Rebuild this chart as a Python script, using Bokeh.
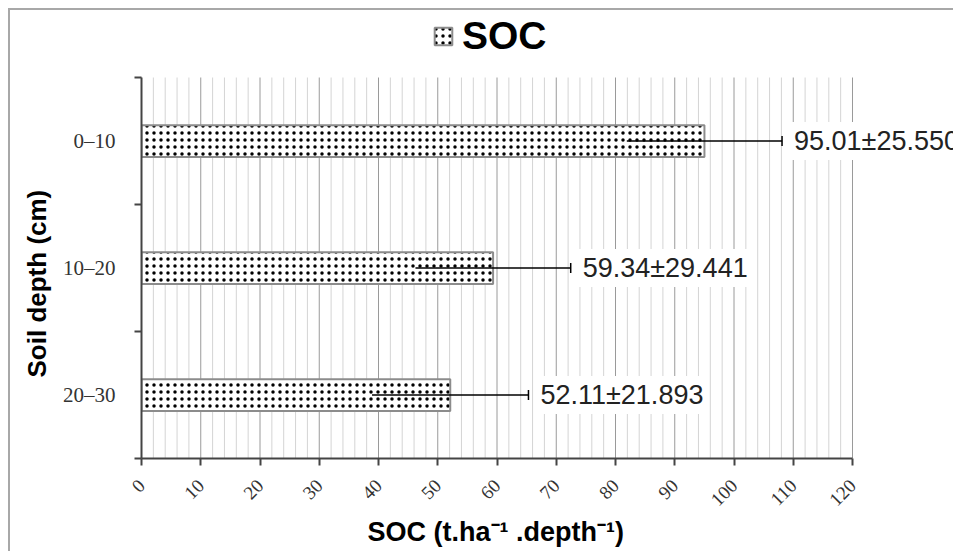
import math
from bokeh.plotting import figure
from bokeh.models import (ColumnDataSource, Range1d, FixedTicker, Title,
                          Whisker, TeeHead, Label, Legend, LegendItem)
from bokeh.embed import file_html
from bokeh.resources import INLINE

# ---- data ----
categories = ["0–10", "10–20", "20–30"]
soc_mean = [95.01, 59.34, 52.11]
soc_sd = [25.550, 29.441, 21.893]
err_drawn = [13.1, 13.1, 13.2]   # whisker half-length as drawn
x_ticks = list(range(0, 121, 10))
x_minor = [v for v in range(0, 121, 2) if v % 10]

ncat = len(categories)
ypos = [i + 0.5 for i in range(ncat)]
src = ColumnDataSource(dict(
    y=ypos, v=soc_mean,
    lo=[m - e for m, e in zip(soc_mean, err_drawn)],
    hi=[m + e for m, e in zip(soc_mean, err_drawn)],
))

SANS = "Liberation Sans"
SERIF = "Liberation Serif"

W, H = 945, 543
LEFT, BOTTOM = 131, 95
PX_PER_X = 711 / 120.0
PX_PER_Y = 381 / 3.0
x_end = 120 + (W - LEFT - 711) / PX_PER_X
y_top = -(H - BOTTOM - 381) / PX_PER_Y

p = figure(width=W, height=H, output_backend="svg", toolbar_location=None,
           x_range=Range1d(0, x_end), y_range=Range1d(ncat, y_top),
           min_border_left=LEFT, min_border_right=0, min_border_top=0, min_border_bottom=BOTTOM,
           outline_line_color=None, background_fill_color="white", border_fill_color="white")
p.styles = {"margin-left": "8px", "margin-top": "8px",
            "border-left": "2px solid #a8a8a8", "border-top": "2px solid #a8a8a8"}
p.xgrid.visible = False
p.ygrid.visible = False

# grid lines (bounded to data area)
p.segment(x0=x_minor, y0=0, x1=x_minor, y1=ncat, line_color="#d4d4d4", line_width=1)
p.segment(x0=x_ticks, y0=0, x1=x_ticks, y1=ncat, line_color="#9a9a9a", line_width=1)

# bars
r = p.hbar(y="y", right="v", left=0, height=0.25, source=src,
           fill_color="white", line_color="#8c8c8c", line_width=2,
           hatch_pattern="dot", hatch_color="black", hatch_scale=7, hatch_weight=2.5)

# error bars
wh = Whisker(source=src, base="y", lower="lo", upper="hi", dimension="width",
             line_color="black", line_width=1.5, level="overlay",
             upper_head=TeeHead(size=10, line_color="black", line_width=1.5),
             lower_head=None)
p.add_layout(wh)

# value labels
for yy, m, s, h in zip(ypos, soc_mean, soc_sd, src.data["hi"]):
    p.add_layout(Label(x=h, y=yy, text=f"{m:.2f}±{s:.3f}", x_offset=8,
                       text_align="left", text_baseline="middle",
                       text_font=SANS, text_font_size="27px", text_color="#222222",
                       background_fill_color="white", padding=4))

# x axis
p.xaxis.bounds = (0, 120)
p.xaxis.ticker = FixedTicker(ticks=x_ticks, minor_ticks=[])
p.xaxis.major_label_orientation = math.pi / 4
p.xaxis.major_label_text_font = SERIF
p.xaxis.major_label_text_font_size = "19px"
p.xaxis.major_label_text_color = "#333333"
p.xaxis.major_tick_in = 0
p.xaxis.major_tick_out = 7
p.xaxis.minor_tick_in = 0
p.xaxis.minor_tick_out = 0
p.xaxis.major_label_standoff = 17
p.xaxis.axis_line_color = "#444444"
p.xaxis.axis_line_width = 2
p.xaxis.major_tick_line_color = "#444444"
p.xaxis.major_tick_line_width = 2

# y axis
p.yaxis.bounds = (0, ncat)
p.yaxis.ticker = FixedTicker(ticks=ypos, minor_ticks=list(range(ncat + 1)))
p.yaxis.major_label_overrides = {yy: c for yy, c in zip(ypos, categories)}
p.yaxis.major_label_text_font = SERIF
p.yaxis.major_label_text_font_size = "21px"
p.yaxis.major_label_text_color = "#333333"
p.yaxis.major_tick_in = 0
p.yaxis.major_tick_out = 0
p.yaxis.minor_tick_in = 0
p.yaxis.minor_tick_out = 7
p.yaxis.minor_tick_line_color = "#444444"
p.yaxis.minor_tick_line_width = 2
p.yaxis.major_label_standoff = 19
p.yaxis.axis_line_color = "#444444"
p.yaxis.axis_line_width = 2

# axis titles as side-panel titles so they can be placed on the data area
p.add_layout(Title(text="SOC (t.ha⁻¹ .depth⁻¹)", align="left", offset=226, standoff=0,
                   text_font=SANS, text_font_style="bold", text_font_size="27px",
                   text_color="black"), "below")
p.add_layout(Title(text="Soil depth (cm)", align="left", offset=81, standoff=16,
                   text_font=SANS, text_font_style="bold", text_font_size="26px",
                   text_color="black"), "left")

# legend as title (placed above the data area)
legend = Legend(items=[LegendItem(label="SOC", renderers=[r])],
                orientation="horizontal", location=(291, 400),
                label_text_font=SANS, label_text_font_style="bold",
                label_text_font_size="39px", label_text_color="black",
                glyph_width=22, glyph_height=22, label_standoff=8,
                border_line_color=None, background_fill_alpha=0,
                padding=0, margin=0)
p.add_layout(legend, "center")

open("out.html", "w").write(file_html(p, INLINE))
